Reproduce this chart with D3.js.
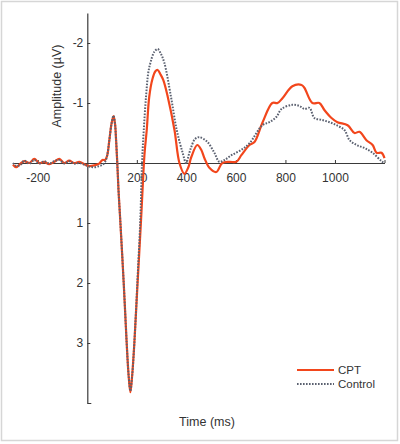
<!DOCTYPE html>
<html>
<head>
<meta charset="utf-8">
<script src="https://cdn.jsdelivr.net/npm/d3@7"></script>
<style>
  body { margin: 0; background: #fff; }
  svg text { font-family: "Liberation Sans", Arial, sans-serif; fill: #333; }
</style>
</head>
<body>
<svg id="chart" width="400" height="444"></svg>
<script>
// grand-average waveforms, time in ms, amplitude in µV (negative plotted up)
var cptTime = [-300,-287,-267,-255,-234,-214,-194,-174,-154,-133,-113,-93,-73,-53,-32,-12,8,28,48,61,72,80,89,98,106,112,116,121,126,133,147,159,167,174,181,190,203,217,227,232,240,250,263,275,284,295,307,325,352,372,392,408,420,444,460,473,493,521,545,574,602,622,655,675,707,747,768,788,828,865,877,909,937,958,986,1010,1051,1079,1099,1127,1152,1168,1188,1200];
var cptAmp = [0.03,0.07,0.0,-0.03,0.0,-0.07,0.0,-0.02,0.02,-0.02,-0.07,0.0,-0.04,0.0,-0.02,0.02,0.05,0.04,0.01,-0.05,-0.05,-0.12,-0.38,-0.66,-0.78,-0.65,-0.4,0.0,0.45,0.95,2.0,3.0,3.55,3.82,3.55,3.0,2.0,0.95,0.12,-0.2,-0.55,-1.1,-1.4,-1.53,-1.55,-1.48,-1.38,-1.1,-0.55,0.0,0.18,0.07,-0.1,-0.3,-0.22,-0.08,0.08,0.15,0.0,-0.02,-0.02,-0.13,-0.3,-0.35,-0.67,-1.0,-1.0,-1.08,-1.28,-1.3,-1.25,-1.0,-1.0,-0.88,-0.75,-0.68,-0.63,-0.5,-0.52,-0.38,-0.3,-0.17,-0.17,-0.08];

var ctrlTime = [-300,-287,-267,-255,-234,-214,-194,-174,-154,-133,-113,-93,-73,-53,-32,-12,8,28,48,61,72,80,89,98,106,112,116,121,126,133,147,159,167,174,181,190,202,214,221,228,237,246,255,270,284,297,311,338,361,385,399,412,420,435,453,485,513,533,554,582,622,655,707,735,764,784,828,857,877,897,917,945,978,1006,1038,1059,1087,1119,1152,1188,1200];
var ctrlAmp = [0.0,0.05,0.02,-0.04,0.01,-0.05,0.01,-0.03,0.01,-0.03,-0.05,0.01,-0.03,0.01,0.0,0.03,0.06,0.07,0.05,0.03,-0.02,-0.12,-0.38,-0.66,-0.79,-0.65,-0.4,0.0,0.45,0.95,2.0,3.0,3.55,3.8,3.55,3.0,2.0,0.95,0.0,-0.55,-1.1,-1.5,-1.67,-1.85,-1.9,-1.82,-1.67,-1.1,-0.55,-0.17,0.0,-0.17,-0.27,-0.4,-0.43,-0.35,-0.17,-0.02,-0.05,-0.13,-0.22,-0.33,-0.63,-0.68,-0.77,-0.9,-0.97,-0.95,-0.9,-0.92,-0.75,-0.72,-0.68,-0.63,-0.55,-0.38,-0.3,-0.25,-0.17,-0.03,0.0];

var xTicks = [-200, 200, 400, 600, 800, 1000, 1200];
var xTickLabels = ["-200", "200", "400", "600", "800", "1000", ""];
var yTicks = [-2, -1, 1, 2, 3, 4];
var yTickLabels = ["-2", "-1", "1", "2", "3", ""];

var seriesNames = ["CPT", "Control"];

var svg = d3.select("#chart");

// light frame round the figure
svg.append("rect")
    .attr("x", 1.5).attr("y", 1.5)
    .attr("width", 396).attr("height", 439)
    .attr("fill", "none")
    .attr("stroke", "#d6d6d6")
    .attr("stroke-width", 1.5);

var x = d3.scaleLinear().domain([-300, 1200]).range([13, 384.5]);
var y = d3.scaleLinear().domain([-2.5, 4]).range([13, 403]);

var axisColor = "#3a3a3a";

// x axis crosses at 0 µV, ticks pointing up
var gx = svg.append("g")
    .attr("transform", "translate(0," + y(0) + ")")
    .call(d3.axisBottom(x)
        .tickValues(xTicks)
        .tickSize(0)
        .tickPadding(0)
        .tickFormat(function (d, i) { return xTickLabels[i]; }));
gx.select(".domain").attr("stroke", axisColor).attr("stroke-width", 1.2);
gx.selectAll(".tick line").attr("y2", -3).attr("stroke", axisColor);
gx.selectAll(".tick text")
    .attr("y", 15).attr("dy", "0.32em")
    .style("font-size", "12px");

// y axis at 0 ms, ticks pointing right
var gy = svg.append("g")
    .attr("transform", "translate(" + x(0) + ",0)")
    .call(d3.axisLeft(y)
        .tickValues(yTicks)
        .tickSize(0)
        .tickPadding(0)
        .tickFormat(function (d, i) { return yTickLabels[i]; }));
gy.select(".domain").attr("stroke", axisColor).attr("stroke-width", 1.2);
gy.selectAll(".tick line").attr("x2", 3).attr("stroke", axisColor);
gy.selectAll(".tick text")
    .attr("x", -4)
    .style("font-size", "12px");
// end tick at the bottom of the y axis
gy.selectAll(".tick").filter(function (d) { return d === 4; })
    .select("line").attr("x2", 4);

svg.append("text")
    .attr("transform", "translate(61,86) rotate(-90)")
    .attr("text-anchor", "middle")
    .style("font-size", "12.5px")
    .text("Amplitude (µV)");

svg.append("text")
    .attr("x", 207).attr("y", 426)
    .attr("text-anchor", "middle")
    .style("font-size", "12.5px")
    .text("Time (ms)");

var line = d3.line()
    .x(function (d) { return x(d[0]); })
    .y(function (d) { return y(d[1]); })
    .curve(d3.curveCatmullRom.alpha(0.5));

var ctrlData = d3.zip(ctrlTime, ctrlAmp);
var cptData = d3.zip(cptTime, cptAmp);

svg.append("path")
    .datum(cptData)
    .attr("d", line)
    .attr("fill", "none")
    .attr("stroke", "#f2461c")
    .attr("stroke-width", 2.2);

svg.append("path")
    .datum(ctrlData)
    .attr("d", line)
    .attr("fill", "none")
    .attr("stroke", "#5b6170")
    .attr("stroke-width", 2)
    .attr("stroke-dasharray", "1.6,1.4");

// legend
var legendStyles = [
    { color: "#f2461c", dash: null, width: 2.2 },
    { color: "#5b6170", dash: "1.6,1.4", width: 2 }
];
var legend = svg.append("g").attr("transform", "translate(297,370)");
seriesNames.forEach(function (name, i) {
    var row = legend.append("g").attr("transform", "translate(0," + (i * 14) + ")");
    row.append("line")
        .attr("x1", 0).attr("x2", 37)
        .attr("stroke", legendStyles[i].color)
        .attr("stroke-width", legendStyles[i].width)
        .attr("stroke-dasharray", legendStyles[i].dash);
    row.append("text")
        .attr("x", 41).attr("dy", "0.35em")
        .style("font-size", "11.5px")
        .text(name);
});
</script>
</body>
</html>
